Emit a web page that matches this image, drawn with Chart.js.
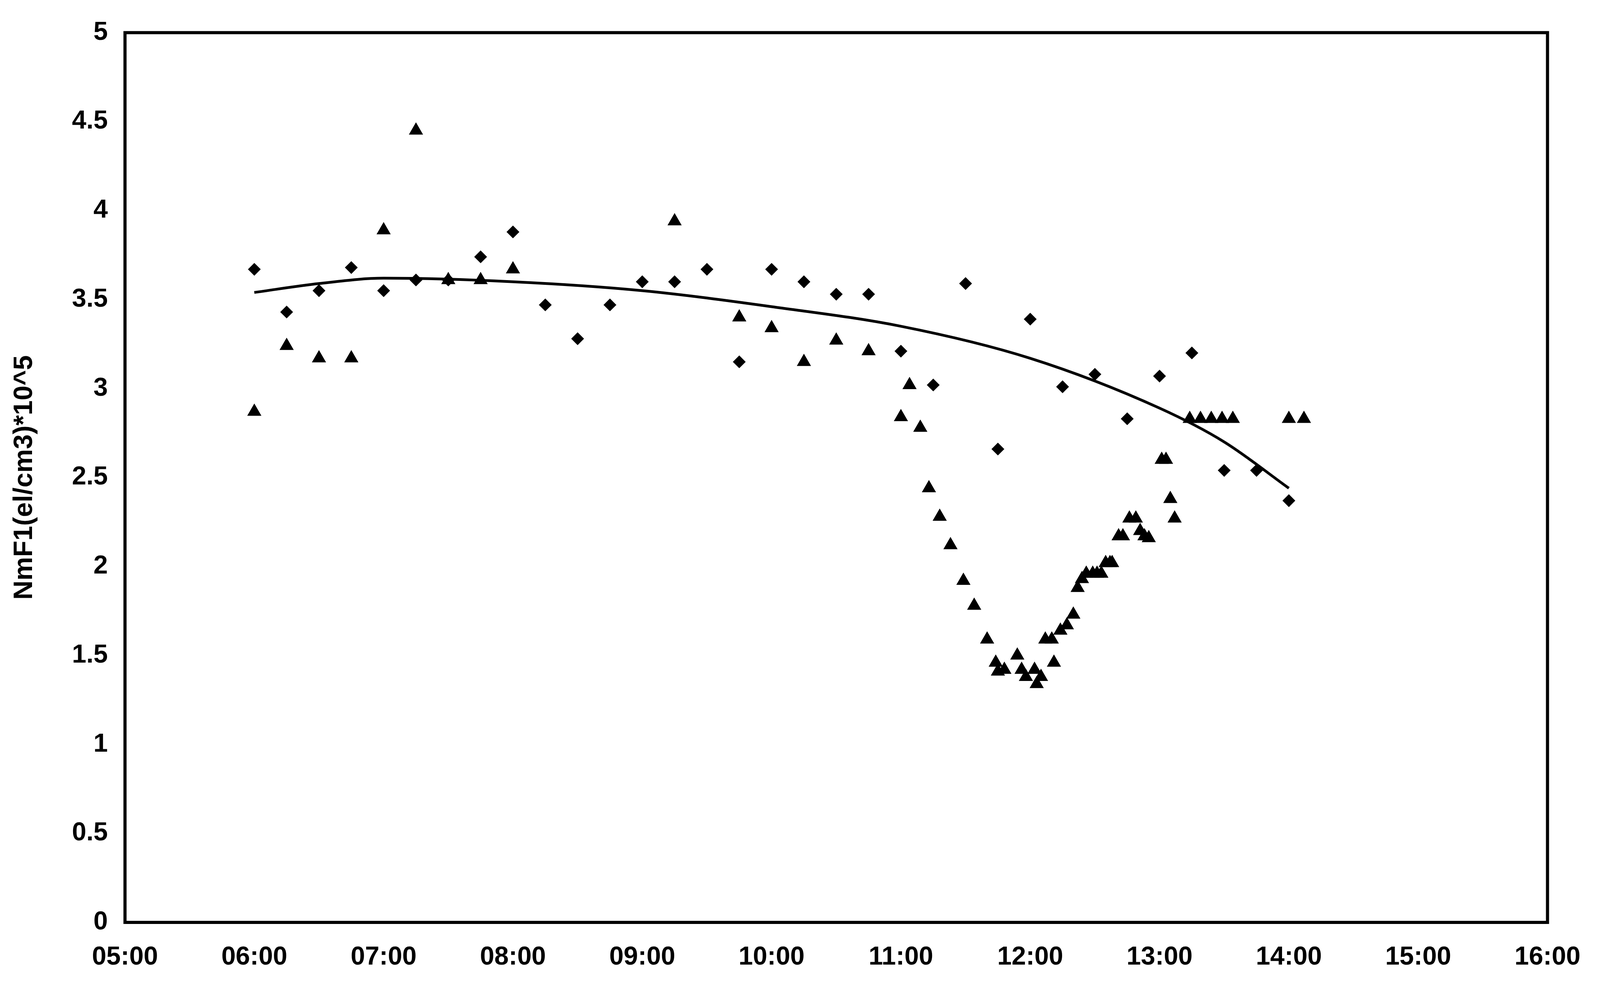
<!DOCTYPE html>
<html>
<head>
<meta charset="utf-8">
<title>NmF1</title>
<script src="https://cdn.jsdelivr.net/npm/chart.js@4.4.1/dist/chart.umd.min.js"></script>
<style>
  html, body { margin: 0; padding: 0; background: #fff; overflow: hidden; }
  #wrap { width: 100vw; height: 100vh; position: relative; }
</style>
</head>
<body>
<div id="wrap"><canvas id="nmf1Chart"></canvas></div>
<script>
// diamonds (every 15 minutes)
const diamondTimes = ['06:00', '06:15', '06:30', '06:45', '07:00', '07:15', '07:30', '07:45', '08:00', '08:15',
  '08:30', '08:45', '09:00', '09:15', '09:30', '09:45', '10:00', '10:15', '10:30', '10:45', '11:00', '11:15',
  '11:30', '11:45', '12:00', '12:15', '12:30', '12:45', '13:00', '13:15', '13:30', '13:45', '14:00'];
const diamondValues = [3.67, 3.43, 3.55, 3.68, 3.55, 3.61, 3.61, 3.74, 3.88, 3.47,
  3.28, 3.47, 3.60, 3.60, 3.67, 3.15, 3.67, 3.60, 3.53, 3.53, 3.21, 3.02,
  3.59, 2.66, 3.39, 3.01, 3.08, 2.83, 3.07, 3.20, 2.54, 2.54, 2.37];

// triangles
const triangleTimes = ['06:00', '06:15', '06:30', '06:45', '07:00', '07:15', '07:30', '07:45', '08:00',
  '09:15', '09:45', '10:00', '10:15', '10:30', '10:45',
  '11:00', '11:04', '11:09', '11:13', '11:18', '11:23', '11:29', '11:34', '11:40', '11:44',
  '11:45', '11:48', '11:54', '11:56', '11:58', '12:02', '12:03', '12:05', '12:07', '12:10',
  '12:11', '12:14', '12:17', '12:20', '12:22', '12:24', '12:26', '12:29', '12:31', '12:33',
  '12:35', '12:37', '12:38', '12:41', '12:43', '12:46', '12:49', '12:51', '12:53', '12:55',
  '13:01', '13:03', '13:05', '13:07', '13:14', '13:19', '13:24', '13:29', '13:34', '14:00', '14:07'];
const triangleValues = [2.87, 3.24, 3.17, 3.17, 3.89, 4.45, 3.61, 3.61, 3.67,
  3.94, 3.40, 3.34, 3.15, 3.27, 3.21,
  2.84, 3.02, 2.78, 2.44, 2.28, 2.12, 1.92, 1.78, 1.59, 1.46,
  1.41, 1.42, 1.50, 1.42, 1.38, 1.42, 1.34, 1.38, 1.59, 1.59,
  1.46, 1.64, 1.67, 1.73, 1.88, 1.93, 1.96, 1.96, 1.96, 1.96,
  2.02, 2.02, 2.02, 2.17, 2.17, 2.27, 2.27, 2.20, 2.17, 2.16,
  2.60, 2.60, 2.38, 2.27, 2.83, 2.83, 2.83, 2.83, 2.83, 2.83, 2.83];

// trend line
const trendTimes = ['06:00', '06:30', '07:00', '08:00', '09:00', '10:00', '11:00', '12:00', '13:00', '13:30', '14:00'];
const trendValues = [3.54, 3.59, 3.62, 3.60, 3.55, 3.46, 3.35, 3.17, 2.89, 2.70, 2.44];

const xMin = 5, xMax = 16;
const yTicks = [0, 0.5, 1, 1.5, 2, 2.5, 3, 3.5, 4, 4.5, 5];
const yTitle = 'NmF1(el/cm3)*10^5';

// the layout was measured on a 4288x2511 picture, scale it to the real window
const W = window.innerWidth || 4288;
const H = window.innerHeight || 2511;
const kx = W / 4288;
const ky = H / 2511;

function toHours(t) {
  const parts = t.split(':');
  return Number(parts[0]) + Number(parts[1]) / 60;
}

function pairs(times, values) {
  return times.map((t, i) => ({ x: toHours(t), y: values[i] }));
}

function hourLabel(v) {
  const h = Math.round(v);
  return (h < 10 ? '0' : '') + h + ':00';
}

// box round the plot area
const frame = {
  id: 'frame',
  afterDatasetsDraw(chart) {
    const a = chart.chartArea;
    const ctx = chart.ctx;
    ctx.save();
    ctx.strokeStyle = '#000';
    ctx.lineWidth = 8 * ky;
    ctx.strokeRect(a.left, a.top, a.right - a.left, a.bottom - a.top);
    ctx.restore();
  }
};

const tickFont = { family: "'Liberation Sans', Arial, sans-serif", size: Math.round(66 * ky), weight: 'bold' };

Chart.defaults.font.family = "'Liberation Sans', Arial, sans-serif";
Chart.defaults.font.weight = 'bold';
Chart.defaults.color = '#000';

const ctx = document.getElementById('nmf1Chart').getContext('2d');
new Chart(ctx, {
  type: 'scatter',
  data: {
    datasets: [
      {
        label: 'trend',
        type: 'line',
        data: pairs(trendTimes, trendValues),
        borderColor: '#000',
        borderWidth: 7 * ky,
        pointRadius: 0,
        cubicInterpolationMode: 'monotone',
        fill: false
      },
      {
        label: 'diamonds',
        data: pairs(diamondTimes, diamondValues),
        pointStyle: 'rectRot',
        pointRadius: 15 * ky,
        backgroundColor: '#000',
        borderColor: '#000',
        borderWidth: 2
      },
      {
        label: 'triangles',
        data: pairs(triangleTimes, triangleValues),
        pointStyle: 'triangle',
        pointRadius: 18 * ky,
        backgroundColor: '#000',
        borderColor: '#000',
        borderWidth: 3
      }
    ]
  },
  options: {
    responsive: true,
    maintainAspectRatio: false,
    devicePixelRatio: 1,
    animation: false,
    layout: {
      padding: { top: 77 * ky, right: 0, left: 0, bottom: 0 }
    },
    plugins: {
      legend: { display: false },
      tooltip: { enabled: false }
    },
    scales: {
      x: {
        type: 'linear',
        min: xMin,
        max: xMax,
        afterFit: scale => { scale.height = 150 * ky; },
        grid: { display: false, drawTicks: false, tickLength: 0 },
        border: { display: false },
        ticks: {
          stepSize: 1,
          padding: 50 * ky,
          maxRotation: 0,
          autoSkip: false,
          font: tickFont,
          callback: v => hourLabel(v)
        }
      },
      y: {
        min: 0,
        max: 5,
        afterFit: scale => { scale.width = 335 * kx; },
        afterBuildTicks: scale => { scale.ticks = yTicks.map(v => ({ value: v })); },
        grid: { display: false, drawTicks: false, tickLength: 0 },
        border: { display: false },
        title: {
          display: true,
          text: yTitle,
          font: { size: Math.round(68 * ky), weight: 'bold' },
          padding: { top: 24 * kx, bottom: 0 }
        },
        ticks: {
          padding: 46 * kx,
          font: tickFont,
          callback: v => String(v)
        }
      }
    }
  },
  plugins: [frame]
});
</script>
</body>
</html>
